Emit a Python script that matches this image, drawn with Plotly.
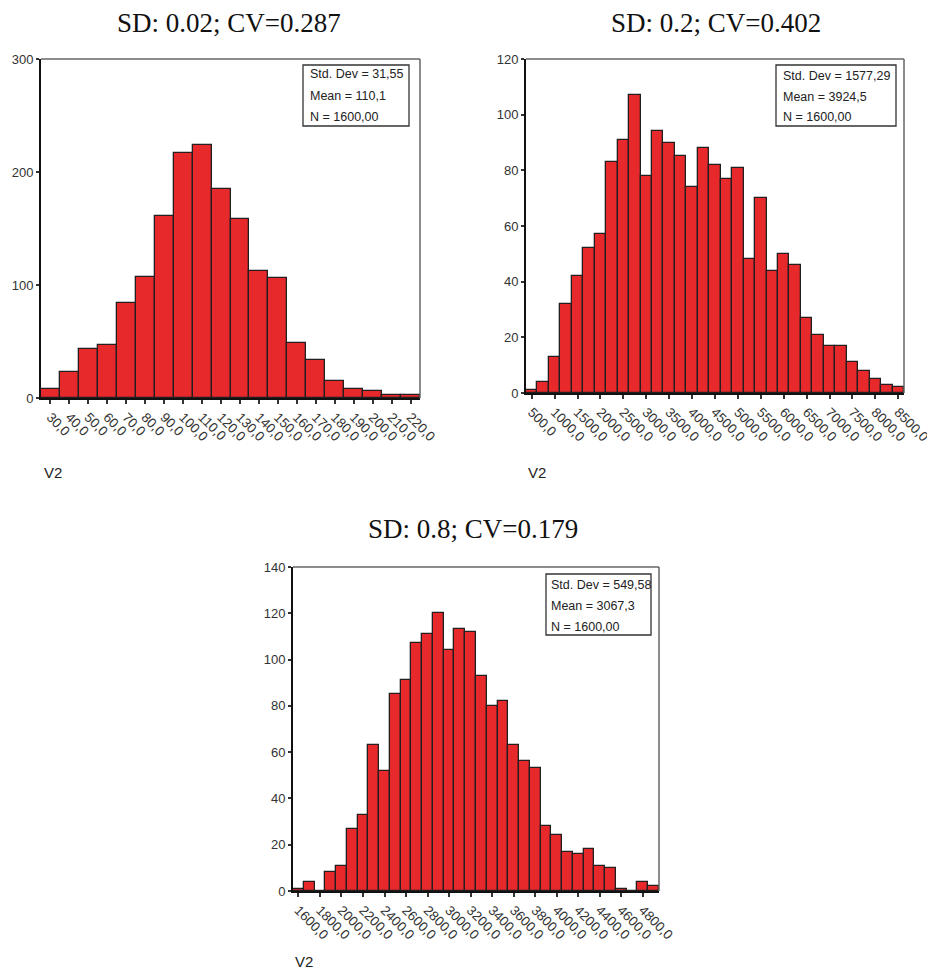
import plotly.graph_objects as go

# page body adds an 8px margin, so the figure is sized to the remaining window
OFF = 8
W, H = 935 - OFF, 971 - OFF

# ---------------- data ----------------
titles = ["SD: 0.02; CV=0.287", "SD: 0.2; CV=0.402", "SD: 0.8; CV=0.179"]

bins1 = [30, 40, 50, 60, 70, 80, 90, 100, 110, 120, 130, 140, 150, 160, 170, 180, 190, 200, 210, 220]
counts1 = [8, 23, 43, 47, 84, 107, 161, 217, 224, 185, 158, 112, 106, 49, 34, 15, 8, 6, 3, 3]
ticks1 = bins1
stats1 = ["Std. Dev = 31,55", "Mean = 110,1", "N = 1600,00"]

bins2 = [500 + 250 * i for i in range(33)]
counts2 = [1, 4, 13, 32, 42, 52, 57, 83, 91, 107, 78, 94, 90, 85, 74, 88, 82, 77, 81,
           48, 70, 44, 50, 46, 27, 21, 17, 17, 11, 8, 5, 3, 2]
ticks2 = [500, 1000, 1500, 2000, 2500, 3000, 3500, 4000, 4500, 5000, 5500, 6000, 6500,
          7000, 7500, 8000, 8500]
stats2 = ["Std. Dev = 1577,29", "Mean = 3924,5", "N = 1600,00"]

bins3 = [1600 + 100 * i for i in range(34)]
counts3 = [1, 4, 0, 8, 11, 27, 33, 63, 52, 85, 91, 107, 111, 120, 104, 113, 112, 93, 80,
           82, 63, 56, 53, 28, 24, 17, 16, 18, 11, 10, 1, 0, 4, 2]
ticks3 = [1600, 1800, 2000, 2200, 2400, 2600, 2800, 3000, 3200, 3400, 3600, 3800, 4000,
          4200, 4400, 4600, 4800]
stats3 = ["Std. Dev = 549,58", "Mean = 3067,3", "N = 1600,00"]

axis_label = "V2"

# ---------------- layout helpers ----------------
def fx(px):
    return (px - OFF) / W

def fy(py):
    return 1 - (py - OFF) / H

panels = [
    dict(bins=bins1, counts=counts1, ticks=ticks1, stats=stats1, title=titles[0], width=10,
         yr=[0, 300], dy=100, plot=(41, 59, 420, 398), box=(303, 65, 409, 126),
         lines=(74.5, 96, 117.5), tx=308, ttl=(229, 22.5), v2=(42, 472)),
    dict(bins=bins2, counts=counts2, ticks=ticks2, stats=stats2, title=titles[1], width=250,
         yr=[0, 120], dy=20, plot=(526, 59, 904, 393), box=(776, 65, 896, 126),
         lines=(76, 97, 117.5), tx=781, ttl=(716, 22.5), v2=(526, 472)),
    dict(bins=bins3, counts=counts3, ticks=ticks3, stats=stats3, title=titles[2], width=100,
         yr=[0, 140], dy=20, plot=(293, 567, 659, 891), box=(546, 574, 651, 635),
         lines=(585, 606, 627), tx=549, ttl=(473, 529), v2=(293, 961)),
]

fig = go.Figure()
layout = dict(width=W, height=H, margin=dict(l=0, r=0, t=0, b=0, autoexpand=False),
              paper_bgcolor="white", plot_bgcolor="white", showlegend=False,
              bargap=0, annotations=[], shapes=[])

RED = "#E8292C"
font_y = dict(family="Liberation Sans, Arial", size=13, color="#333333")
font_x = dict(family="Liberation Sans, Arial", size=13.5, color="#333333")

for i, p in enumerate(panels):
    n = "" if i == 0 else str(i + 1)
    xa, ya = "x" + n, "y" + n
    fig.add_trace(go.Bar(x=p["bins"], y=p["counts"], width=p["width"],
                         marker=dict(color=RED, line=dict(color="#231F20", width=1.3)),
                         xaxis=xa, yaxis=ya, hoverinfo="x+y"))
    x0, y0, x1, y1 = p["plot"]
    half = p["width"] / 2
    layout["xaxis" + n] = dict(
        domain=[fx(x0), fx(x1)], anchor=ya, automargin=False,
        range=[p["bins"][0] - half, p["bins"][-1] + half],
        tickvals=p["ticks"], ticktext=[f"{t},0" for t in p["ticks"]],
        tickangle=45, ticks="outside", ticklen=4, tickwidth=2, tickcolor="#333333",
        showline=True, linecolor="#111111", linewidth=2, showgrid=False, zeroline=False,
        tickfont=font_x, fixedrange=True)
    layout["yaxis" + n] = dict(
        domain=[fy(y1), fy(y0)], anchor=xa, range=p["yr"], dtick=p["dy"], automargin=False,
        ticks="outside", ticklen=3, tickwidth=2, tickcolor="#333333",
        showline=True, linecolor="#111111", linewidth=2, showgrid=False, zeroline=False,
        tickfont=font_y, fixedrange=True)
    # top and right frame lines (grey)
    layout["shapes"].append(dict(type="line", xref=xa + " domain", yref=ya + " domain",
                                 x0=0, x1=1, y0=1, y1=1, line=dict(color="#666666", width=1.5)))
    layout["shapes"].append(dict(type="line", xref=xa + " domain", yref=ya + " domain",
                                 x0=1, x1=1, y0=0, y1=1, line=dict(color="#666666", width=1.5)))
    # stats box
    bx0, by0, bx1, by1 = p["box"]
    layout["shapes"].append(dict(type="rect", xref="paper", yref="paper",
                                 x0=fx(bx0), x1=fx(bx1), y0=fy(by1), y1=fy(by0),
                                 line=dict(color="#333333", width=1.3), fillcolor="white"))
    for txt, ly in zip(p["stats"], p["lines"]):
        layout["annotations"].append(dict(text=txt, xref="paper", yref="paper",
                                          x=fx(p["tx"]), y=fy(ly), xanchor="left", yanchor="middle",
                                          showarrow=False,
                                          font=dict(family="Liberation Sans, Arial", size=12.5, color="#222222")))
    # title
    tx_, ty_ = p["ttl"]
    layout["annotations"].append(dict(text=p["title"], xref="paper", yref="paper",
                                      x=fx(tx_), y=fy(ty_), xanchor="center", yanchor="middle",
                                      showarrow=False,
                                      font=dict(family="Liberation Serif, Times New Roman", size=27,
                                                color="#111111")))
    # axis name
    vx, vy = p["v2"]
    layout["annotations"].append(dict(text=axis_label, xref="paper", yref="paper",
                                      x=fx(vx), y=fy(vy), xanchor="left", yanchor="middle",
                                      showarrow=False,
                                      font=dict(family="Liberation Sans, Arial", size=15, color="#222222")))

fig.update_layout(**layout)
fig.write_html("out.html")
